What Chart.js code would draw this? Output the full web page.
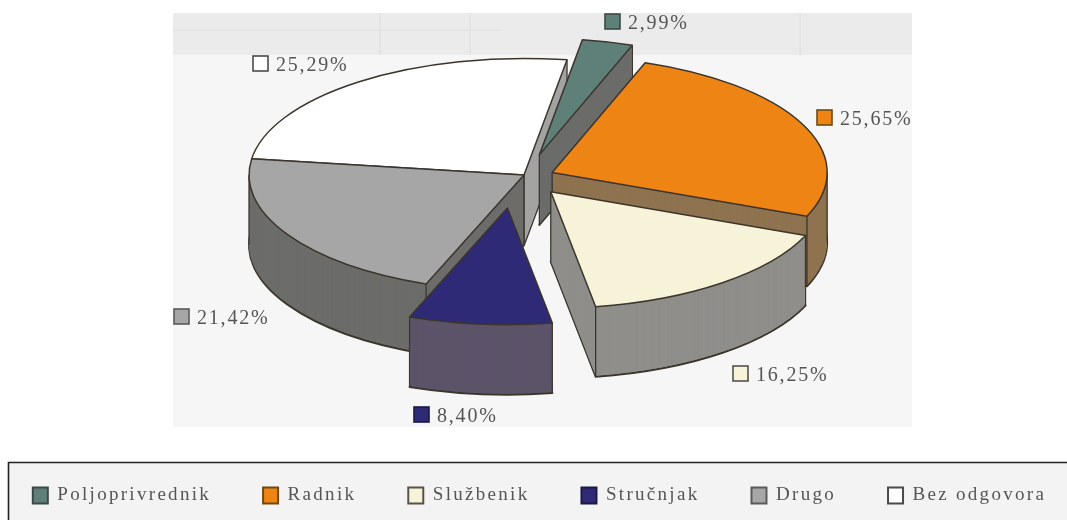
<!DOCTYPE html>
<html><head><meta charset="utf-8">
<script src="https://cdn.jsdelivr.net/npm/chart.js@4"></script>
<style>html,body{margin:0;padding:0;background:#fff;overflow:hidden}canvas{display:block}</style>
</head><body><canvas id="c" width="1067" height="520"></canvas>
<script>
const categories = ["Poljoprivrednik","Radnik","Službenik","Stručnjak","Drugo","Bez odgovora"];
const shares = [2.99,25.65,16.25,8.40,21.42,25.29];
const shareLabels = ["2,99%","25,65%","16,25%","8,40%","21,42%","25,29%"];
const topColors = ["#5f7f79","#ee8413","#f7f3d8","#2f2a76","#a6a6a6","#ffffff"];
const wallColors = ["#6b6c6a","#8f7350","#8f8e8b","#5c5469","#6c6c6a","#a3a3a3"];
const legendEdge = ["#3c4a46","#6e4a12","#55534a","#1c1a44","#5a5a5a","#4a4a4a"];
const explode = [89,53,96,190,0,0];
const nudgeX = [5,4,-1,-9,0,0];
const nudgeY = [-3,2,2,1,0,0];
const drawOrder = [5,0,1,4,2,3];
const labelAnchor = [[605,14],[817,110],[733,366],[414,407],[174,309],[253,56]];

const VIEW = {cx:524, cy:175, radius:275, squash:0.424, depth:70};
const FONT = '"Liberation Serif", serif';
const LEGEND_PAD = 52;

function geom(el,i){
  const o=(el.options.offset||0)/4;
  const k = VIEW.radius / (el.outerRadius+o), off = o*k;
  const mid = (el.startAngle+el.endAngle)/2;
  return {ax:VIEW.cx+Math.cos(mid)*off+nudgeX[i], ay:VIEW.cy+Math.sin(mid)*off*VIEW.squash+nudgeY[i],
          a0:el.startAngle, a1:el.endAngle};
}
function pathAt(ctx,g,dy){
  const R=VIEW.radius, r=R*VIEW.squash;
  ctx.beginPath();
  ctx.moveTo(g.ax,g.ay+dy);
  ctx.ellipse(g.ax,g.ay+dy,R,r,0,g.a0,g.a1);
  ctx.closePath();
}
function vline(ctx,x,y){ctx.beginPath();ctx.moveTo(x,y);ctx.lineTo(x,y+VIEW.depth);ctx.stroke();}

const pie3d = {
  id:'pie3d',
  beforeLayout(chart){
    chart.ctx.letterSpacing='2.3px';
    const lg=chart.legend;
    if(lg && !lg.__wide){
      const orig=lg._fitRows;
      lg._fitRows=function(...a){const m=this.maxWidth;this.maxWidth=1e4;const r=orig.apply(this,a);this.maxWidth=m;return r;};
      lg.__wide=true;
    }
  },
  afterLayout(chart){
    const lg=chart.legend, shift=(497-LEGEND_PAD-11)-lg.top;
    lg.top+=shift; lg.bottom+=shift;
    lg.left=-40; lg.right=1119;
  },
  beforeDraw(chart){
    const c=chart.ctx;
    c.letterSpacing='2.3px';
    c.save();
    c.fillStyle='#f6f6f6'; c.fillRect(173,13,739,414);
    c.fillStyle='#ebebeb'; c.fillRect(173,13,739,42);
    c.strokeStyle='#dedede'; c.lineWidth=1;
    [[173,30,500,30],[380,13,380,55],[470,13,470,55],[800,13,800,55]].forEach(l=>{c.beginPath();c.moveTo(l[0],l[1]);c.lineTo(l[2],l[3]);c.stroke();});
    c.fillStyle='#f3f3f3'; c.fillRect(8,462,1059,58);
    c.strokeStyle='#222'; c.lineWidth=1.6;
    c.beginPath();c.moveTo(8.5,520);c.lineTo(8.5,462.5);c.lineTo(1067,462.5);c.stroke();
    c.restore();
  },
  beforeDatasetDraw(chart,args){
    const c=chart.ctx, arcs=args.meta.data, edge='#3b352c';
    drawOrder.forEach(i=>{
      const el=arcs[i], g=geom(el,i);
      c.save();
      c.strokeStyle=edge; c.lineJoin='round';
      c.fillStyle=wallColors[i];
      pathAt(c,g,VIEW.depth); c.fill();
      c.lineWidth=2; c.stroke();
      for(let d=VIEW.depth-1;d>=0;d--){pathAt(c,g,d);c.fill();}
      c.lineWidth=1.3;
      vline(c,g.ax,g.ay);
      const R=VIEW.radius, r=R*VIEW.squash;
      if(Math.sin(g.a0)>0||Math.cos(g.a0)<0) vline(c,g.ax+Math.cos(g.a0)*R,g.ay+Math.sin(g.a0)*r);
      if(Math.sin(g.a1)>0||Math.cos(g.a1)>0) vline(c,g.ax+Math.cos(g.a1)*R,g.ay+Math.sin(g.a1)*r);
      for(const t of [0,Math.PI,2*Math.PI,3*Math.PI]){
        if(t>g.a0&&t<g.a1) vline(c,g.ax+Math.cos(t)*R,g.ay);
      }
      pathAt(c,g,0);
      c.fillStyle=el.options.backgroundColor; c.fill();
      c.lineWidth=1.5; c.stroke();
      c.restore();
    });
    return false;
  },
  afterDraw(chart){
    const c=chart.ctx;
    c.save();
    c.font='20px '+FONT; c.textBaseline='middle'; c.textAlign='left';
    c.letterSpacing='1.8px';
    labelAnchor.forEach((p,i)=>{
      c.fillStyle=topColors[i]; c.strokeStyle=legendEdge[i]; c.lineWidth=1.6;
      c.fillRect(p[0],p[1],15,15); c.strokeRect(p[0],p[1],15,15);
      c.fillStyle='#555';
      c.fillText(shareLabels[i],p[0]+23,p[1]+10);
    });
    c.restore();
  }
};

new Chart(document.getElementById('c'),{
  type:'pie',
  data:{labels:categories,datasets:[{data:shares,backgroundColor:topColors,offset:explode,borderWidth:0}]},
  options:{
    responsive:false, animation:false, events:[],
    rotation:9,
    plugins:{
      tooltip:{enabled:false},
      legend:{position:'bottom',
        labels:{color:'#555',boxWidth:15,boxHeight:16,padding:LEGEND_PAD,
          font:{family:'"Liberation Serif"',size:19},
          generateLabels(chart){
            return Chart.overrides.pie.plugins.legend.labels.generateLabels(chart).map((l,i)=>{
              l.strokeStyle=legendEdge[i]; l.lineWidth=2; return l;
            });
          }}}
    }
  },
  plugins:[pie3d]
});
</script></body></html>
